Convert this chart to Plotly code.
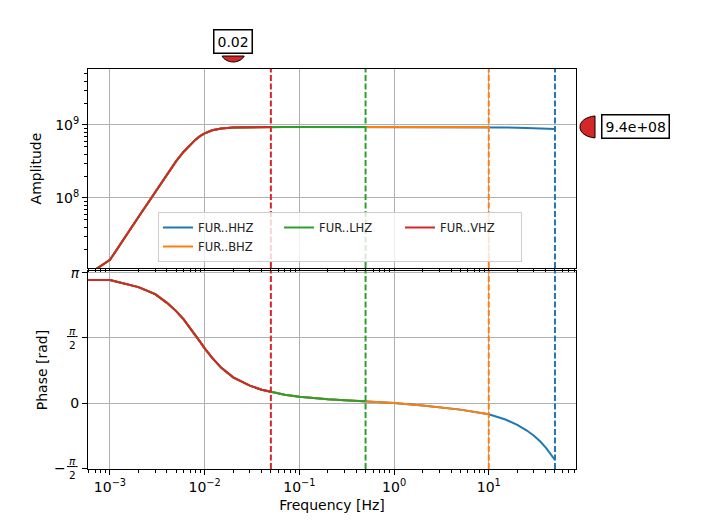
import math
import plotly.graph_objects as go

# ---------------- data ----------------
channels = ["FUR..HHZ", "FUR..BHZ", "FUR..LHZ", "FUR..VHZ"]
nyquist_hz = [50.0, 10.0, 0.5, 0.05]
colors = ["#1f77b4", "#ff7f0e", "#2ca02c", "#d62728"]
legend_column = ["c1", "c1", "c2", "c3"]   # matplotlib ncol=3, filled column by column

freq_hz = [1e-4, 0.001, 0.002, 0.003, 0.004, 0.005, 0.006, 0.007, 0.008, 0.009,
           0.010, 0.012, 0.015, 0.02, 0.03, 0.04, 0.05, 0.07, 0.1, 0.15, 0.2,
           0.3, 0.5, 0.7, 1.0, 2.0, 5.0, 10.0, 15.0, 20.0, 25.0, 30.0, 35.0,
           40.0, 45.0, 50.0]
amplitude = [1.95e6, 1.42e7, 5.5e7, 1.22e8, 2.12e8, 3.2e8, 4.3e8, 5.35e8, 6.3e8, 7.1e8,
             7.7e8, 8.45e8, 8.98e8, 9.25e8, 9.36e8, 9.38e8, 9.4e8, 9.4e8, 9.4e8, 9.4e8, 9.4e8,
             9.4e8, 9.4e8, 9.4e8, 9.4e8, 9.4e8, 9.4e8, 9.4e8, 9.3e8, 9.2e8, 9.1e8, 9.0e8, 8.95e8,
             8.9e8, 8.85e8, 8.82e8]
phase_rad = [2.97, 2.97, 2.80, 2.63, 2.42, 2.22, 2.02, 1.82, 1.64, 1.47,
             1.32, 1.09, 0.85, 0.62, 0.42, 0.32, 0.27, 0.20, 0.15, 0.11, 0.09,
             0.065, 0.04, 0.02, 0.0, -0.06, -0.16, -0.273, -0.40, -0.53, -0.66, -0.79, -0.93,
             -1.08, -1.23, -1.377]

marker_freq = 0.02
marker_amp = 9.4e8

freq_tick_exp = [-3, -2, -1, 0, 1]
amp_tick_exp = [8, 9]
phase_ticks = [-math.pi / 2, 0, math.pi / 2, math.pi]
# plain labels go on the axis; the two fractions are drawn as stacked annotations
phase_ticktext = ["", "0", "", "<i>\u03c0</i>"]
PI_FRAC = ("<span style='text-decoration:underline'>\u2009<i>\u03c0</i>\u2009</span><br>2")
phase_frac_labels = [(-math.pi / 2, "\u2212"), (math.pi / 2, "")]

# ---------------- figure ----------------
FONT = "DejaVu Sans"
fig = go.Figure()

for name, nyq, col, grp in zip(channels, nyquist_hz, colors, legend_column):
    f_sel = [f for f in freq_hz if f <= nyq + 1e-12]
    n = len(f_sel)
    fig.add_trace(go.Scatter(x=f_sel, y=amplitude[:n], mode="lines", name=name,
                             line=dict(color=col, width=2), xaxis="x", yaxis="y",
                             legendgroup=grp))
    fig.add_trace(go.Scatter(x=f_sel, y=phase_rad[:n], mode="lines", name=name,
                             line=dict(color=col, width=2), xaxis="x2", yaxis="y2",
                             legendgroup=grp, showlegend=False))

xr = [-3.232, 1.921]
yr_amp = [7.041, 9.767]
ydom_amp = [0.5025, 1.0]

shapes = []
for nyq, col in zip(nyquist_hz, colors):
    for xa, ya in (("x", "y domain"), ("x2", "y2 domain")):
        shapes.append(dict(type="line", xref=xa, yref=ya, x0=nyq, x1=nyq, y0=0, y1=1,
                           line=dict(color=col, width=2, dash="6px,2.5px")))

# marker glyphs (placed in paper space, positioned from the data values)
mx_frac = (math.log10(marker_freq) - xr[0]) / (xr[1] - xr[0])
my_frac = ydom_amp[0] + (ydom_amp[1] - ydom_amp[0]) * (math.log10(marker_amp) - yr_amp[0]) / (yr_amp[1] - yr_amp[0])
shapes.append(dict(type="path", xref="paper", yref="paper", xsizemode="pixel",
                   ysizemode="pixel", xanchor=mx_frac, yanchor=1,
                   path="M -11,13 L 11,13 C 10,10 5,7 0,7 C -5,7 -10,10 -11,13 Z",
                   fillcolor="#d62728", line=dict(color="black", width=1), layer="above"))
shapes.append(dict(type="path", xref="paper", yref="paper", xsizemode="pixel",
                   ysizemode="pixel", xanchor=1, yanchor=my_frac,
                   path="M 19,11 L 19,-11 C 10,-10 4,-6 4,0 C 4,6 10,10 19,11 Z",
                   fillcolor="#d62728", line=dict(color="black", width=1), layer="above"))

annotations = [
    dict(text=f"{marker_freq:g}", xref="x", x=math.log10(marker_freq), xanchor="center",
         yref="y domain", y=1, yanchor="middle", yshift=28, showarrow=False,
         font=dict(family=FONT, size=14, color="black"),
         bgcolor="white", bordercolor="black", borderwidth=1.5, borderpad=3),
    dict(text=f"{marker_amp:.2g}", xref="paper", x=1, xanchor="center", xshift=59,
         yref="y", y=math.log10(marker_amp), yanchor="middle", showarrow=False,
         font=dict(family=FONT, size=14, color="black"),
         bgcolor="white", bordercolor="black", borderwidth=1.5, borderpad=3),
]
for val, sign in phase_frac_labels:
    if sign:
        annotations.append(dict(text=sign, xref="paper", x=0, xanchor="right", xshift=-20,
                                yref="y2", y=val, yanchor="middle", showarrow=False,
                                font=dict(family=FONT, size=14, color="black")))
    annotations.append(dict(text=PI_FRAC, xref="paper", x=0, xanchor="right", xshift=-8,
                            yref="y2", y=val, yanchor="middle", showarrow=False,
                            align="center",
                            font=dict(family=FONT, size=10.5, color="black")))

axis_common = dict(showline=True, linecolor="black", linewidth=1, mirror=True,
                   ticks="outside", ticklen=5, tickwidth=1, tickcolor="black",
                   showgrid=True, gridcolor="#b0b0b0", gridwidth=1, zeroline=False,
                   tickfont=dict(family=FONT, size=14, color="black"))
log_minor = dict(ticks="outside", ticklen=3, tickwidth=1, tickcolor="black",
                 showgrid=False, dtick="D1")

def pow_label(e):
    s = str(e).replace("-", "\u2212")
    return f"10<sup>{s}</sup>"

fig.update_layout(
    width=704, height=528,
    margin=dict(l=88, r=128, t=69, b=59),
    paper_bgcolor="white", plot_bgcolor="white",
    font=dict(family=FONT, size=14, color="black"),
    xaxis=dict(axis_common, type="log", range=xr, domain=[0, 1], anchor="y",
               showticklabels=False, tickvals=[10.0 ** e for e in freq_tick_exp],
               minor=log_minor, matches="x2"),
    xaxis2=dict(axis_common, type="log", range=xr, domain=[0, 1], anchor="y2",
                tickvals=[10.0 ** e for e in freq_tick_exp],
                ticktext=[pow_label(e) for e in freq_tick_exp], minor=log_minor,
                title=dict(text="Frequency [Hz]", font=dict(family=FONT, size=14), standoff=6)),
    yaxis=dict(axis_common, type="log", range=yr_amp, domain=ydom_amp,
               anchor="x", tickvals=[10.0 ** e for e in amp_tick_exp],
               ticktext=[pow_label(e) for e in amp_tick_exp], minor=log_minor,
               title=dict(text="Amplitude", font=dict(family=FONT, size=14), standoff=10)),
    yaxis2=dict(axis_common, range=[-math.pi / 2 - 0.024, math.pi + 0.048],
                domain=[0, 0.495], anchor="x2", tickvals=phase_ticks,
                ticktext=phase_ticktext,
                title=dict(text="Phase [rad]", font=dict(family=FONT, size=14), standoff=19)),
    legend=dict(orientation="h", x=0.1434, xanchor="left", y=0.5175, yanchor="bottom",
                traceorder="grouped", tracegroupgap=0,
                entrywidth=76, entrywidthmode="pixels",
                bgcolor="rgba(255,255,255,0.8)", bordercolor="#cccccc", borderwidth=1,
                font=dict(family=FONT, size=11.6, color="#222222"), itemwidth=30),
    shapes=shapes,
    annotations=annotations,
)

fig.write_html("out.html")
